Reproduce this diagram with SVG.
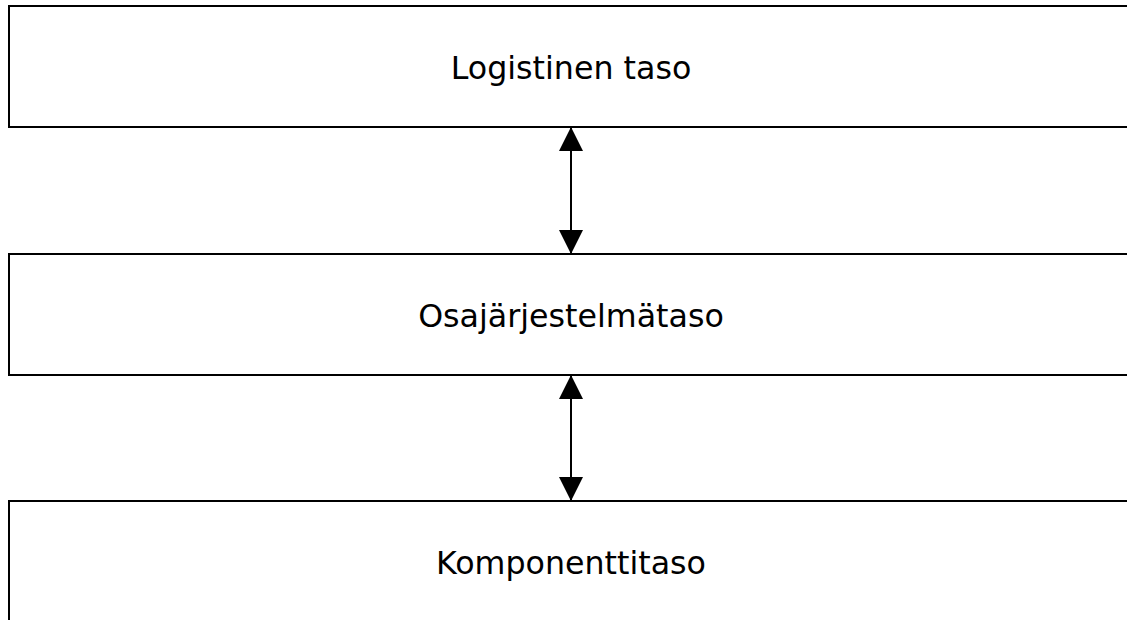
<svg xmlns="http://www.w3.org/2000/svg" width="1127" height="620" viewBox="0 0 1127 620">
  <style>
    .box { fill: #ffffff; stroke: #000000; stroke-width: 2; }
    .label { font-family: "DejaVu Sans", sans-serif; font-size: 31.7px; fill: #000000; text-anchor: middle; }
    .link { stroke: #000000; stroke-width: 2; fill: none; }
  </style>
  <defs>
    <marker id="head" viewBox="0 0 24 24" refX="24" refY="12" markerWidth="24" markerHeight="24" markerUnits="userSpaceOnUse" orient="auto-start-reverse">
      <path d="M0,0 L24,12 L0,24 Z" fill="#000000"/>
    </marker>
  </defs>
  <rect width="1127" height="620" fill="#ffffff"/>
  <g id="logistinen">
    <rect class="box" x="9" y="6" width="1130" height="121"/>
    <text class="label" x="571" y="79">Logistinen taso</text>
  </g>
  <g id="osajarjestelma">
    <rect class="box" x="9" y="254" width="1130" height="121"/>
    <text class="label" x="571" y="327">Osajärjestelmätaso</text>
  </g>
  <g id="komponentti">
    <rect class="box" x="9" y="501" width="1130" height="140"/>
    <text class="label" x="571" y="574">Komponenttitaso</text>
  </g>
  <g id="connectors">
    <line class="link" x1="571" y1="127" x2="571" y2="254" marker-start="url(#head)" marker-end="url(#head)"/>
    <line class="link" x1="571" y1="375" x2="571" y2="501" marker-start="url(#head)" marker-end="url(#head)"/>
  </g>
</svg>
